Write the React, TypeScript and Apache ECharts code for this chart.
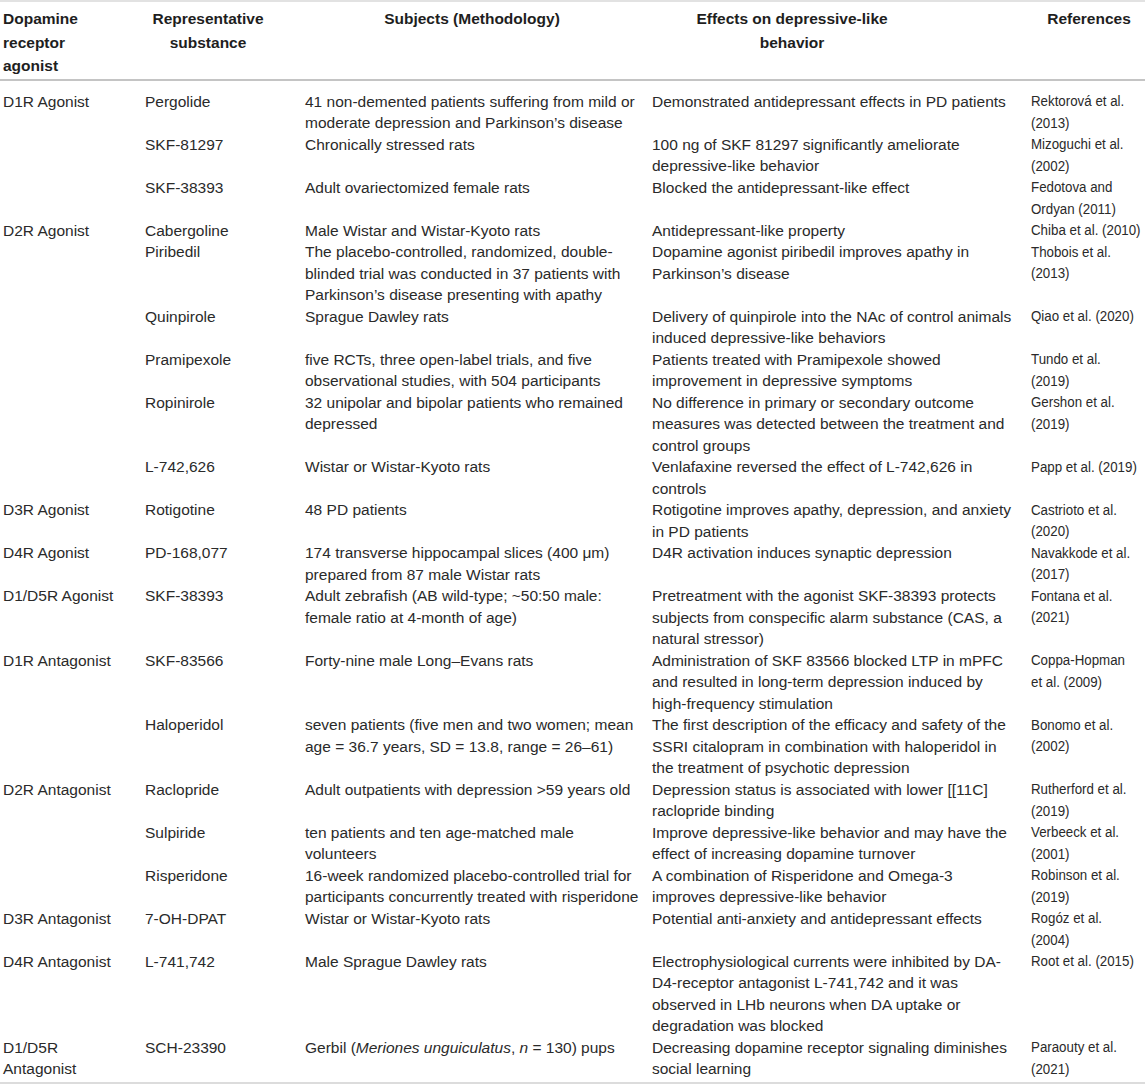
import React, { useEffect, useRef } from "react";
import * as echarts from "echarts";

const headers = [
  "Dopamine\nreceptor\nagonist",
  "Representative\nsubstance",
  "Subjects (Methodology)",
  "Effects on depressive-like\nbehavior",
  "References",
];

const receptorTypes = [
  "D1R Agonist", "", "", "D2R Agonist", "", "", "", "", "",
  "D3R Agonist", "D4R Agonist", "D1/D5R Agonist", "D1R Antagonist", "",
  "D2R Antagonist", "", "", "D3R Antagonist", "D4R Antagonist", "D1/D5R\nAntagonist",
];

const substances = [
  "Pergolide", "SKF-81297", "SKF-38393", "Cabergoline", "Piribedil", "Quinpirole",
  "Pramipexole", "Ropinirole", "L-742,626", "Rotigotine", "PD-168,077", "SKF-38393",
  "SKF-83566", "Haloperidol", "Raclopride", "Sulpiride", "Risperidone", "7-OH-DPAT",
  "L-741,742", "SCH-23390",
];

const subjects = [
  "41 non-demented patients suffering from mild or\nmoderate depression and Parkinson’s disease",
  "Chronically stressed rats",
  "Adult ovariectomized female rats",
  "Male Wistar and Wistar-Kyoto rats",
  "The placebo-controlled, randomized, double-\nblinded trial was conducted in 37 patients with\nParkinson’s disease presenting with apathy",
  "Sprague Dawley rats",
  "five RCTs, three open-label trials, and five\nobservational studies, with 504 participants",
  "32 unipolar and bipolar patients who remained\ndepressed",
  "Wistar or Wistar-Kyoto rats",
  "48 PD patients",
  "174 transverse hippocampal slices (400 μm)\nprepared from 87 male Wistar rats",
  "Adult zebrafish (AB wild-type; ~50:50 male:\nfemale ratio at 4-month of age)",
  "Forty-nine male Long–Evans rats",
  "seven patients (five men and two women; mean\nage = 36.7 years, SD = 13.8, range = 26–61)",
  "Adult outpatients with depression >59 years old",
  "ten patients and ten age-matched male\nvolunteers",
  "16-week randomized placebo-controlled trial for\nparticipants concurrently treated with risperidone",
  "Wistar or Wistar-Kyoto rats",
  "Male Sprague Dawley rats",
  "Gerbil ({i|Meriones unguiculatus}, {i|n} = 130) pups",
];

const effects = [
  "Demonstrated antidepressant effects in PD patients",
  "100 ng of SKF 81297 significantly ameliorate\ndepressive-like behavior",
  "Blocked the antidepressant-like effect",
  "Antidepressant-like property",
  "Dopamine agonist piribedil improves apathy in\nParkinson’s disease",
  "Delivery of quinpirole into the NAc of control animals\ninduced depressive-like behaviors",
  "Patients treated with Pramipexole showed\nimprovement in depressive symptoms",
  "No difference in primary or secondary outcome\nmeasures was detected between the treatment and\ncontrol groups",
  "Venlafaxine reversed the effect of L-742,626 in\ncontrols",
  "Rotigotine improves apathy, depression, and anxiety\nin PD patients",
  "D4R activation induces synaptic depression",
  "Pretreatment with the agonist SKF-38393 protects\nsubjects from conspecific alarm substance (CAS, a\nnatural stressor)",
  "Administration of SKF 83566 blocked LTP in mPFC\nand resulted in long-term depression induced by\nhigh-frequency stimulation",
  "The first description of the efficacy and safety of the\nSSRI citalopram in combination with haloperidol in\nthe treatment of psychotic depression",
  "Depression status is associated with lower [[11C]\nraclopride binding",
  "Improve depressive-like behavior and may have the\neffect of increasing dopamine turnover",
  "A combination of Risperidone and Omega-3\nimproves depressive-like behavior",
  "Potential anti-anxiety and antidepressant effects",
  "Electrophysiological currents were inhibited by DA-\nD4-receptor antagonist L-741,742 and it was\nobserved in LHb neurons when DA uptake or\ndegradation was blocked",
  "Decreasing dopamine receptor signaling diminishes\nsocial learning",
];

const references = [
  "Rektorová et al.\n(2013)",
  "Mizoguchi et al.\n(2002)",
  "Fedotova and\nOrdyan (2011)",
  "Chiba et al. (2010)",
  "Thobois et al.\n(2013)",
  "Qiao et al. (2020)",
  "Tundo et al.\n(2019)",
  "Gershon et al.\n(2019)",
  "Papp et al. (2019)",
  "Castrioto et al.\n(2020)",
  "Navakkode et al.\n(2017)",
  "Fontana et al.\n(2021)",
  "Coppa-Hopman\net al. (2009)",
  "Bonomo et al.\n(2002)",
  "Rutherford et al.\n(2019)",
  "Verbeeck et al.\n(2001)",
  "Robinson et al.\n(2019)",
  "Rogóz et al.\n(2004)",
  "Root et al. (2015)",
  "Paraouty et al.\n(2021)",
];

const FONT = '"Liberation Sans", Arial, Helvetica, sans-serif';

export default function App() {
  const ref = useRef<HTMLDivElement>(null);
  useEffect(() => {
    if (!ref.current) return;
    const chart = echarts.init(ref.current, null, { renderer: "svg" });
    const W = 1145;
    const colX = [3, 145, 305, 652, 1031];
    const colScaleX = [1, 1, 1, 1, 0.86];
    const headerCenters = [null, 208, 472, 792, 1089];
    const headerY = [18.5, 42.5, 65];
    const L = 21.5;
    const firstY = 101;
    const fontSize = 15.5;
    const bodyColor = "#2a2a2a";
    const els: any[] = [];

    const rich = { i: { fontStyle: "italic", fontSize, fontFamily: FONT, fill: bodyColor } };

    headers.forEach((h, c) => {
      h.split("\n").forEach((line, k) => {
        els.push({
          type: "text",
          x: c === 0 ? colX[0] : (headerCenters[c] as number),
          y: headerY[k],
          style: {
            text: line,
            font: `bold ${fontSize}px ${FONT}`,
            fill: "#1e1e1e",
            textAlign: c === 0 ? "left" : "center",
            textVerticalAlign: "middle",
          },
        });
      });
    });

    let lineIdx = 0;
    const cols = [receptorTypes, substances, subjects, effects, references];
    for (let r = 0; r < substances.length; r++) {
      let maxLines = 1;
      cols.forEach((arr, c) => {
        const txt = arr[r];
        if (!txt) return;
        const lines = txt.split("\n");
        maxLines = Math.max(maxLines, lines.length);
        lines.forEach((line, k) => {
          els.push({
            type: "text",
            x: colX[c],
            y: firstY + (lineIdx + k) * L,
            scaleX: colScaleX[c],
            style: {
              text: line,
              fontSize,
              fontFamily: FONT,
              fill: bodyColor,
              textAlign: "left",
              textVerticalAlign: "middle",
              rich,
            },
          });
        });
      });
      lineIdx += maxLines;
    }

    els.push({ type: "line", shape: { x1: 0, y1: 1, x2: W, y2: 1 }, style: { stroke: "#d9d9d9", lineWidth: 1.5 } });
    els.push({ type: "line", shape: { x1: 0, y1: 80, x2: W, y2: 80 }, style: { stroke: "#c4c4c4", lineWidth: 2 } });
    els.push({ type: "line", shape: { x1: 0, y1: 1083, x2: W, y2: 1083 }, style: { stroke: "#dcdcdc", lineWidth: 2 } });

    chart.setOption({
      animation: false,
      backgroundColor: "#ffffff",
      graphic: { elements: els },
    });
    return () => chart.dispose();
  }, []);
  return (
    <div
      ref={ref}
      style={{ position: "fixed", left: 0, top: 0, width: 1145, height: 1086, background: "#fff" }}
    />
  );
}
